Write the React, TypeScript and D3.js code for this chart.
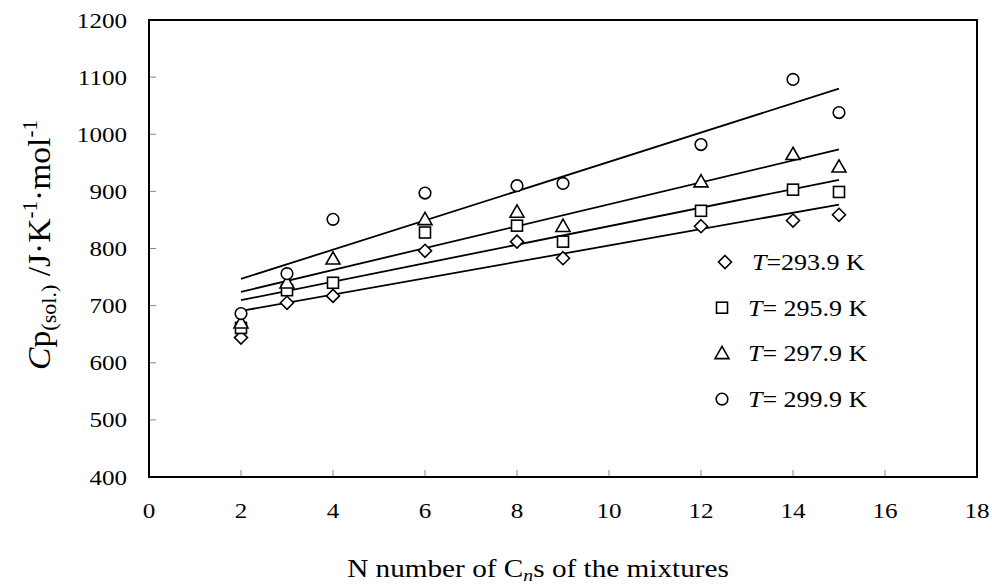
import React from "react";
import * as d3 from "d3";

const xValues = [2, 3, 4, 6, 8, 9, 12, 14, 15];
const series293 = [644, 705, 717, 796, 812, 783, 839, 849, 859];
const series295 = [661, 727, 740, 828, 840, 812, 866, 903, 899];
const series297 = [670, 740, 782, 851, 864, 839, 917, 965, 943];
const series299 = [686, 756, 851, 897, 910, 914, 982, 1096, 1038];
const xTicks = [0, 2, 4, 6, 8, 10, 12, 14, 16, 18];
const yTicks = [400, 500, 600, 700, 800, 900, 1000, 1100, 1200];
const legendTemps = ["=293.9 K", "= 295.9 K", "= 297.9 K", "= 299.9 K"];
const symbols = ["diamond", "square", "triangle", "circle"];

const W = 992, H = 586;
const M = { left: 149, right: 977, top: 20, bottom: 477 };
const FONT = "Liberation Serif";
const SX = 1.14;

function fit(xs: number[], ys: number[]) {
  const mx = d3.mean(xs)!, my = d3.mean(ys)!;
  let sxy = 0, sxx = 0;
  xs.forEach((x, i) => { sxy += (x - mx) * (ys[i] - my); sxx += (x - mx) * (x - mx); });
  const b = sxy / sxx;
  return { a: my - b * mx, b };
}

function Marker({ kind, x, y }: { kind: string; x: number; y: number }) {
  const common = { fill: "white", stroke: "black", strokeWidth: 1.6 };
  if (kind === "diamond") {
    const s = 6.5;
    return <path d={`M${x},${y - s}L${x + s},${y}L${x},${y + s}L${x - s},${y}Z`} {...common} />;
  }
  if (kind === "square") {
    const s = 5.5;
    return <rect x={x - s} y={y - s} width={2 * s} height={2 * s} {...common} />;
  }
  if (kind === "triangle") {
    const s = 7;
    return <path d={`M${x},${y - s}L${x + s},${y + s * 0.75}L${x - s},${y + s * 0.75}Z`} {...common} />;
  }
  return <circle cx={x} cy={y} r={5.8} {...common} />;
}

export default function App() {
  const x = d3.scaleLinear().domain([0, 18]).range([M.left, M.right]);
  const y = d3.scaleLinear().domain([400, 1200]).range([M.bottom, M.top]);
  const allSeries = [series293, series295, series297, series299];
  const fitLine = d3.line<[number, number]>().x((d) => x(d[0])).y((d) => y(d[1]));
  const x0 = d3.min(xValues)!, x1 = d3.max(xValues)!;

  return (
    <svg width={W} height={H} style={{ position: "absolute", left: 0, top: 0, background: "white", fontFamily: FONT }}>
      <rect x={0} y={0} width={W} height={H} fill="white" />
      {yTicks.map((t) => (
        <line key={"yt" + t} x1={M.left} x2={M.left + 7} y1={y(t)} y2={y(t)} stroke="#888" strokeWidth={1} />
      ))}
      {xTicks.map((t) => (
        <line key={"xt" + t} x1={x(t)} x2={x(t)} y1={M.bottom} y2={M.bottom - 7} stroke="#888" strokeWidth={1} />
      ))}
      <rect x={M.left} y={M.top} width={M.right - M.left} height={M.bottom - M.top} fill="none" stroke="black" strokeWidth={2} />
      {yTicks.map((t) => (
        <text key={"yl" + t} transform={`translate(127,${y(t) + 7.5}) scale(${SX},1)`} textAnchor="end" fontSize={22} style={{ fontFamily: FONT }}>{t}</text>
      ))}
      {xTicks.map((t) => (
        <text key={"xl" + t} transform={`translate(${x(t)},518) scale(${SX},1)`} textAnchor="middle" fontSize={22} style={{ fontFamily: FONT }}>{t}</text>
      ))}
      {allSeries.map((ys, i) => {
        const f = fit(xValues, ys);
        const pts: [number, number][] = [[x0, f.a + f.b * x0], [x1, f.a + f.b * x1]];
        return <path key={"l" + i} d={fitLine(pts)!} stroke="black" strokeWidth={1.8} fill="none" />;
      })}
      {allSeries.map((ys, i) =>
        ys.map((v, j) => <Marker key={`p${i}-${j}`} kind={symbols[i]} x={x(xValues[j])} y={y(v)} />)
      )}
      {legendTemps.map((lab, i) => {
        const cy = 262 + i * 45.7;
        return (
          <g key={"lg" + i}>
            <Marker kind={symbols[i]} x={i === 0 ? 725 : 722} y={cy} />
            <text transform={`translate(${i === 0 ? 752 : 748},${cy + 8}) scale(1.13,1)`} fontSize={23} style={{ fontFamily: FONT }}>
              <tspan fontStyle="italic">T</tspan>
              <tspan>{lab}</tspan>
            </text>
          </g>
        );
      })}
      <text transform={`translate(538,577) scale(1.17,1)`} textAnchor="middle" fontSize={25} style={{ fontFamily: FONT }}>
        <tspan>N number of C</tspan>
        <tspan fontStyle="italic" fontSize={17} dy={4}>n</tspan>
        <tspan dy={-4}>s of the mixtures</tspan>
      </text>
      <text transform={`translate(50,245) rotate(-90) scale(1.05,1)`} textAnchor="middle" fontSize={32} style={{ fontFamily: FONT }}>
        <tspan fontStyle="italic">C</tspan>
        <tspan>p</tspan>
        <tspan fontSize={21} dy={6}>(sol.)</tspan>
        <tspan dy={-6}> /J·K</tspan>
        <tspan fontSize={20} dy={-13}>-1</tspan>
        <tspan dy={13}>·mol</tspan>
        <tspan fontSize={20} dy={-13}>-1</tspan>
      </text>
    </svg>
  );
}
